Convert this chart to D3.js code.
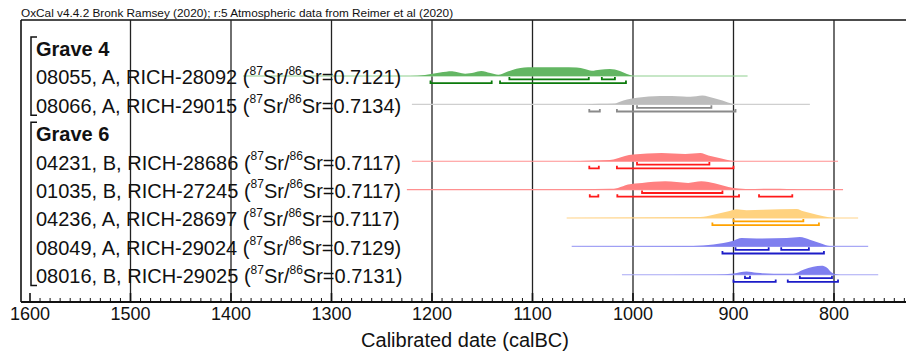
<!DOCTYPE html>
<html><head><meta charset="utf-8">
<script src="https://cdn.jsdelivr.net/npm/d3@7"></script>
<style>html,body{margin:0;padding:0;background:#fff;}svg{display:block;font-family:"Liberation Sans",Arial,sans-serif;}</style>
</head><body>
<svg id="chart" width="906" height="352"></svg>
<script>
// ---------- data ----------
const header = "OxCal v4.4.2 Bronk Ramsey (2020); r:5 Atmospheric data from Reimer et al (2020)";
const axisTitle = "Calibrated date (calBC)";
const tickYears = [1600, 1500, 1400, 1300, 1200, 1100, 1000, 900, 800];
const groupNames = ["Grave 4", "Grave 6"];
const rowKinds = ["group", "sample", "sample", "group", "sample", "sample", "sample", "sample", "sample"];
const sampleIds = ["08055, A, RICH-28092", "08066, A, RICH-29015", "04231, B, RICH-28686", "01035, B, RICH-27245", "04236, A, RICH-28697", "08049, A, RICH-29024", "08016, B, RICH-29025"];
const srValues = ["0.7121", "0.7134", "0.7117", "0.7117", "0.7117", "0.7129", "0.7131"];
const sampleColors = ["green", "gray", "red", "red", "orange", "blue", "blue"];
// full extent of each plotted distribution (calBC)
const extents = [[1388, 886], [1220, 824], [1220, 796], [1225, 791], [1066, 776], [1061, 766], [1011, 756]];
// relative probability (arbitrary units) by calendar year
const densities = [
  [[1222,0],[1207,1],[1192,3.5],[1180,4.7],[1167,2.3],[1158,3.5],[1151,5],[1142,3],[1134,1.3],[1127,3.5],[1120,6],[1112,8],[1104.5,8.7],[1072,8.7],[1056,8.5],[1048,7],[1041,5.3],[1033,6.3],[1023,7],[1013,5],[1006,2],[1000,0]],
  [[1048,0],[1033,0.7],[1018,1],[1013,2.7],[1006,5],[996,6.7],[973,8.3],[950,8],[943,7.7],[931,9],[920,6.5],[911,4],[900,0.5],[895,0]],
  [[1080,0],[1053,0.3],[1023,1.2],[1016,2.7],[1008,5.3],[1000,6.7],[971.5,8.3],[948,7.3],[933,8.3],[925,5.7],[912,2.7],[902,0.5],[897,0]],
  [[1080,0],[1053,0.3],[1023,0.8],[1015,1.7],[1005,5],[991,6.7],[968,8.3],[945,6.7],[932,8.3],[918,6],[905,2.7],[895,1],[888,0.5],[869,0.8],[854,0.8],[839,0.3],[834,0]],
  [[1066,0],[993,0.5],[933,1],[920,3.3],[905,6.7],[897,8.7],[887,7.7],[870.6,8.3],[837,9],[830.5,6.7],[817,3.3],[804,0.5],[799,0]],
  [[1061,0],[950,0.3],[930,1],[910,3.3],[900,5.7],[892,8.3],[877,8],[847,8.3],[834,9.3],[824,6.7],[812,2.7],[804,0.3],[799,0]],
  [[1011,0],[917,0.3],[900,1.3],[887,3.3],[877,2],[860,1],[840.5,1],[830.5,5],[820.6,8],[812.3,9],[807.3,7.3],[802.3,2.3],[797.3,0.5],[794,0]]
];
// 68.2% and 95.4% highest-probability ranges (calBC)
const ranges68 = [
  [[1123,1044],[1031,1018]],
  [[996,922]],
  [[996,924]],
  [[991,911]],
  [[900,830.5]],
  [[898,865],[852.5,825]],
  [[888.6,883.6],[834,802]]
];
const ranges95 = [
  [[1201.5,1140.6],[1132.3,1007]],
  [[1043.5,1033],[1016,898]],
  [[1043.5,1034],[1016,900]],
  [[1043,1034.5],[1015.6,894.5],[874.6,841.5]],
  [[921,815]],
  [[911,810]],
  [[900,858],[846,796]]
];

// ---------- styles ----------
const palette = {
  green:  {fill:"#63b663", line:"#8fd08f", range:"#0b7a0b"},
  gray:   {fill:"#bcbcbc", line:"#cfcfcf", range:"#8a8a8a"},
  red:    {fill:"#ff8080", line:"#ff9090", range:"#ff1a1a"},
  orange: {fill:"#ffd27f", line:"#ffd48a", range:"#ffa200"},
  blue:   {fill:"#7f7fef", line:"#a8a8f5", range:"#1c1cc8"}
};

const svg = d3.select("#chart");
const W = 906, H = 352;
const frameLeft = 21, frameTop = 20, axisY = 302;

const x = d3.scaleLinear().domain([1600, 800]).range([30, 834]);
const y = d3.scaleLinear().domain([0, 8]).range([47.6, 274.8]);
const hScale = d3.scaleLinear().domain([0, 10]).range([0, 10]);

// header
svg.append("text").attr("x", 21).attr("y", 16.5).attr("font-size", 11.8).attr("fill", "#111").text(header);

// frame
svg.append("line").attr("x1", frameLeft).attr("x2", W).attr("y1", frameTop).attr("y2", frameTop).attr("stroke", "#111").attr("stroke-width", 1.6);
svg.append("line").attr("x1", frameLeft).attr("x2", frameLeft).attr("y1", frameTop).attr("y2", axisY).attr("stroke", "#111").attr("stroke-width", 1.6);

// gridlines
svg.append("g").selectAll("line").data(tickYears.filter(d => d !== 1600)).join("line")
  .attr("x1", d => x(d)).attr("x2", d => x(d)).attr("y1", frameTop).attr("y2", axisY)
  .attr("stroke", "#222").attr("stroke-width", 1.3);

// sample rows
const sampleRows = rowKinds.map((k, i) => k === "sample" ? i : -1).filter(i => i >= 0);
const groupRows = rowKinds.map((k, i) => k === "group" ? i : -1).filter(i => i >= 0);

const area = d3.area().x(d => x(d[0])).y1(d => -hScale(d[1])).y0(0).curve(d3.curveMonotoneX);

sampleIds.forEach((id, si) => {
  const row = sampleRows[si];
  const by = y(row);
  const pal = palette[sampleColors[si]];
  const g = svg.append("g").attr("transform", `translate(0,${by})`);
  g.append("line").attr("x1", x(extents[si][0])).attr("x2", x(extents[si][1])).attr("y1", 0).attr("y2", 0)
    .attr("stroke", pal.line).attr("stroke-width", 1.1);
  g.append("path").datum(densities[si]).attr("d", area).attr("fill", pal.fill);
  const drawRanges = (rs, off) => {
    rs.forEach(r => {
      const x1 = x(r[0]), x2 = x(r[1]);
      g.append("path").attr("d", `M${x1},${off-2.5}V${off}H${x2}V${off-2.5}`)
        .attr("fill", "none").attr("stroke", pal.range).attr("stroke-width", 1.8);
    });
  };
  drawRanges(ranges68[si], 3.4);
  drawRanges(ranges95[si], 7.1);
});

// labels
const labelX = 36;
sampleIds.forEach((id, si) => {
  const row = sampleRows[si];
  const t = svg.append("text").attr("x", labelX).attr("y", y(row) + 8.3).attr("font-size", 20).attr("fill", "#111");
  t.append("tspan").text(id + " (");
  t.append("tspan").attr("font-size", 12).attr("dy", -9.5).text("87");
  t.append("tspan").attr("dy", 9.5).text("Sr/");
  t.append("tspan").attr("font-size", 12).attr("dy", -9.5).text("86");
  t.append("tspan").attr("dy", 9.5).text("Sr=" + srValues[si] + ")");
});
groupNames.forEach((gname, gi) => {
  svg.append("text").attr("x", labelX).attr("y", y(groupRows[gi]) + 8.3).attr("font-size", 20)
    .attr("font-weight", "bold").attr("fill", "#111").text(gname);
});

// group brackets
const groupEnds = groupRows.map((r, gi) => gi < groupRows.length - 1 ? groupRows[gi + 1] - 1 : rowKinds.length - 1);
groupRows.forEach((r, gi) => {
  const top = y(r) - 10.6, bot = y(groupEnds[gi]) + 10.8;
  svg.append("path").attr("d", `M37,${top}H31V${bot}H37`).attr("fill", "none").attr("stroke", "#111").attr("stroke-width", 1.5);
});

// axis
svg.append("line").attr("x1", frameLeft).attr("x2", W).attr("y1", axisY).attr("y2", axisY).attr("stroke", "#111").attr("stroke-width", 2);
const minorYears = d3.range(1600, 720, -10);
svg.append("g").selectAll("line").data(minorYears).join("line")
  .attr("x1", d => x(d)).attr("x2", d => x(d))
  .attr("y1", axisY).attr("y2", d => d % 100 === 0 ? axisY - 9 : axisY - 4)
  .attr("stroke", "#111").attr("stroke-width", d => d % 100 === 0 ? 1.6 : 1);
svg.append("g").selectAll("text").data(tickYears).join("text")
  .attr("x", d => x(d)).attr("y", 320).attr("text-anchor", "middle").attr("font-size", 18).attr("fill", "#111")
  .text(d => d);
svg.append("text").attr("x", 465).attr("y", 347).attr("text-anchor", "middle").attr("font-size", 20).attr("fill", "#111").text(axisTitle);
</script>
</body></html>
